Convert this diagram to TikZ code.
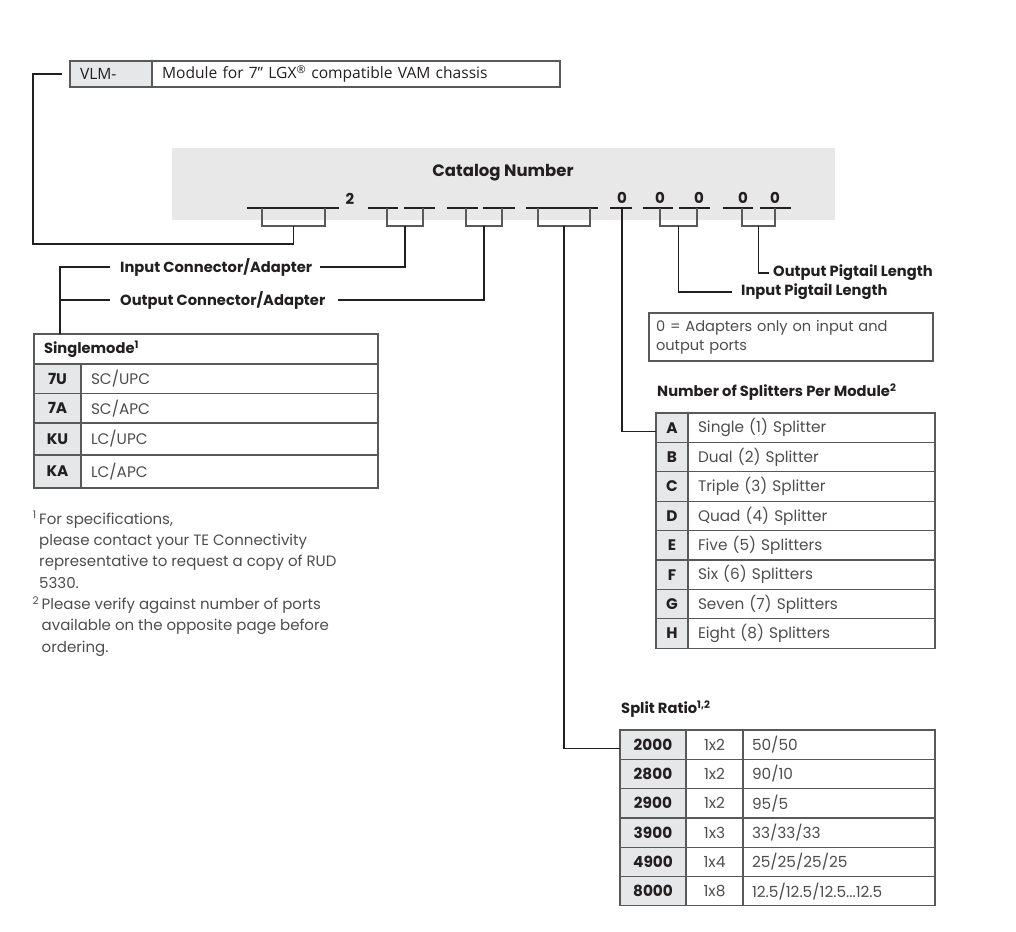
\documentclass[tikz,border=0pt]{standalone}
\usepackage{fontspec}
\setmainfont{Poppins}
\newfontfamily\vlmfont{Open Sans}
\usetikzlibrary{positioning}
\definecolor{ink}{HTML}{231F20}
\definecolor{txtgray}{HTML}{4D4D4F}
\definecolor{rulegray}{HTML}{58595B}
\definecolor{keygray}{HTML}{E6E7E8}
\definecolor{bandgray}{HTML}{E8E8E9}
\newcommand\tabfont{\fontsize{15.3}{18}\selectfont}
\newcommand\lblfont{\bfseries\fontsize{14.7}{17}\selectfont}
% bracket under a group of catalog slots, named coordinate at its foot
\newcommand\catbracket[3]{%
  \draw[tick] (#1,208) -- (#1,226) -- (#2,226) -- (#2,208);
  \coordinate (#3) at ({(#1+#2)/2},226);}
\tikzset{
  wire/.style    = {draw=ink, line width=1.2pt},
  tick/.style    = {draw=rulegray, line width=1.2pt},
  slot/.style    = {draw=ink, line width=1.8pt},
  lbl/.style     = {font=\lblfont, text=ink, inner sep=0pt, anchor=west},
  digit/.style   = {font=\bfseries\fontsize{15}{17}\selectfont, text=ink, inner sep=0pt},
  cell/.style    = {draw=rulegray, line width=1.2pt, outer sep=0pt,
                    inner sep=0pt, text=txtgray, font=\tabfont},
  keycell/.style = {cell, fill=keygray, text=ink, font=\bfseries\tabfont},
  desc/.style    = {cell, inner xsep=10pt, text width=#1, align=left}
}
\begin{document}
\begin{tikzpicture}[x=1pt, y=-1pt]
  \useasboundingbox (0,0) rectangle (1016,931);

  % module prefix
  \node[keycell, anchor=north west, minimum height=26, inner xsep=10pt,
        text width=62pt, align=left, font=\vlmfont\fontsize{15.6}{17}\selectfont]
        (vlmkey) at (70,61) {VLM-};
  \node[cell, right=0pt of vlmkey, minimum height=26, inner xsep=10pt,
        text width=388pt, align=left, text=ink,
        font=\vlmfont\fontsize{15.6}{17}\selectfont]
        (vlmdesc) {Module for 7” LGX\textsuperscript{®} compatible VAM chassis};

  % catalog number band
  \fill[bandgray] (172,148) rectangle (835,220);
  \node[digit, font=\bfseries\fontsize{16.5}{19}\selectfont] (cattitle) at (503,173) {Catalog Number};
  \node[digit] (d2)  at (350,199) {2};
  \node[digit] (d0a) at (622,198) {0};
  \node[digit] (d0b) at (660,198) {0};
  \node[digit] (d0c) at (699,198) {0};
  \node[digit] (d0d) at (743,198) {0};
  \node[digit] (d0e) at (775,198) {0};
  \draw[slot] (247,208) -- (339,208);
  \draw[slot] (368,208) -- (398,208) (404,208) -- (435,208);
  \draw[slot] (447,208) -- (478,208) (483,208) -- (515,208);
  \draw[slot] (526,208) -- (598,208);
  \draw[slot] (610,208) -- (632,208);
  \draw[slot] (643,208) -- (673,208) (679,208) -- (710,208);
  \draw[slot] (723,208) -- (753,208) (760,208) -- (791,208);
  \catbracket{262}{325}{g1}
  \catbracket{387}{423}{g2}
  \catbracket{466}{502}{g3}
  \catbracket{538}{590}{g4}
  \catbracket{660}{697}{g5}
  \catbracket{742}{775}{g6}
  \coordinate (g0) at (622,208);

  % labels
  \node[lbl] (inlbl)  at (120,267) {Input Connector/Adapter};
  \node[lbl] (outlbl) at (120,300) {Output Connector/Adapter};
  \node[lbl] (outpig) at (773,273) {Output Pigtail Length};
  \node[lbl] (inpig)  at (741,292) {Input Pigtail Length};
  \node[cell, anchor=north west, minimum width=284, minimum height=48,
        inner xsep=7pt, text width=270pt, align=left,
        font=\fontsize{14.6}{19}\selectfont]
        (adnote) at (649,313) {0 = Adapters only on input and\\output ports};

  % singlemode table
  \node[cell, anchor=north west, minimum height=30, inner xsep=10pt,
        text width=324pt, align=left, text=ink, font=\lblfont]
        (smhead) at (34,334) {Singlemode\textsuperscript{1}};
  \node[keycell, minimum width=47, minimum height=29.5,
        below=0pt of smhead.south west, anchor=north west] (sm7U) {7U};
  \node[desc=277pt, minimum height=29.5, right=0pt of sm7U] (smSCU) {SC/UPC};
  \node[keycell, minimum width=47, minimum height=29.5, below=0pt of sm7U] (sm7A) {7A};
  \node[desc=277pt, minimum height=29.5, right=0pt of sm7A] (smSCA) {SC/APC};
  \node[keycell, minimum width=47, minimum height=32, below=0pt of sm7A] (smKU) {KU};
  \node[desc=277pt, minimum height=32, right=0pt of smKU] (smLCU) {LC/UPC};
  \node[keycell, minimum width=47, minimum height=33, below=0pt of smKU] (smKA) {KA};
  \node[desc=277pt, minimum height=33, right=0pt of smKA] (smLCA) {LC/APC};

  % footnotes
  \node[lbl, font=\fontsize{15}{21.3}\selectfont, text=txtgray, align=left,
        anchor=base west] (fnotes) at (39,652)
        {\llap{\textsuperscript{1}\,}For specifications,\\
         please contact your TE Connectivity\\
         representative to request a copy of RUD\\
         5330.\\
         \llap{\textsuperscript{2}}\,Please verify against number of ports\\
         \,available on the opposite page before\\
         \,ordering.};

  % splitters table
  \node[lbl] (sptitle) at (657,392) {Number of Splitters Per Module\textsuperscript{2}};
  \node[keycell, minimum width=32, minimum height=29.4, anchor=north west] (spA) at (656,413) {A};
  \node[desc=227pt, minimum height=29.4, right=0pt of spA] (spAd) {Single (1) Splitter};
  \node[keycell, minimum width=32, minimum height=29.4, below=0pt of spA] (spB) {B};
  \node[desc=227pt, minimum height=29.4, right=0pt of spB] (spBd) {Dual (2) Splitter};
  \node[keycell, minimum width=32, minimum height=29.4, below=0pt of spB] (spC) {C};
  \node[desc=227pt, minimum height=29.4, right=0pt of spC] (spCd) {Triple (3) Splitter};
  \node[keycell, minimum width=32, minimum height=29.4, below=0pt of spC] (spD) {D};
  \node[desc=227pt, minimum height=29.4, right=0pt of spD] (spDd) {Quad (4) Splitter};
  \node[keycell, minimum width=32, minimum height=29.4, below=0pt of spD] (spE) {E};
  \node[desc=227pt, minimum height=29.4, right=0pt of spE] (spEd) {Five (5) Splitters};
  \node[keycell, minimum width=32, minimum height=29.4, below=0pt of spE] (spF) {F};
  \node[desc=227pt, minimum height=29.4, right=0pt of spF] (spFd) {Six (6) Splitters};
  \node[keycell, minimum width=32, minimum height=29.4, below=0pt of spF] (spG) {G};
  \node[desc=227pt, minimum height=29.4, right=0pt of spG] (spGd) {Seven (7) Splitters};
  \node[keycell, minimum width=32, minimum height=29.4, below=0pt of spG] (spH) {H};
  \node[desc=227pt, minimum height=29.4, right=0pt of spH] (spHd) {Eight (8) Splitters};

  % split ratio table
  \node[lbl] (srtitle) at (621,709) {Split Ratio\textsuperscript{1,2}};
  \node[keycell, minimum width=66, minimum height=29.3, anchor=north west] (sr2000) at (620,730) {2000};
  \node[cell, minimum width=57, minimum height=29.3, right=0pt of sr2000] (sr2000n) {1x2};
  \node[desc=174pt, inner xsep=9pt, minimum height=29.3, right=0pt of sr2000n] (sr2000r) {50/50};
  \node[keycell, minimum width=66, minimum height=29.3, below=0pt of sr2000] (sr2800) {2800};
  \node[cell, minimum width=57, minimum height=29.3, right=0pt of sr2800] (sr2800n) {1x2};
  \node[desc=174pt, inner xsep=9pt, minimum height=29.3, right=0pt of sr2800n] (sr2800r) {90/10};
  \node[keycell, minimum width=66, minimum height=29.3, below=0pt of sr2800] (sr2900) {2900};
  \node[cell, minimum width=57, minimum height=29.3, right=0pt of sr2900] (sr2900n) {1x2};
  \node[desc=174pt, inner xsep=9pt, minimum height=29.3, right=0pt of sr2900n] (sr2900r) {95/5};
  \node[keycell, minimum width=66, minimum height=29.3, below=0pt of sr2900] (sr3900) {3900};
  \node[cell, minimum width=57, minimum height=29.3, right=0pt of sr3900] (sr3900n) {1x3};
  \node[desc=174pt, inner xsep=9pt, minimum height=29.3, right=0pt of sr3900n] (sr3900r) {33/33/33};
  \node[keycell, minimum width=66, minimum height=29.3, below=0pt of sr3900] (sr4900) {4900};
  \node[cell, minimum width=57, minimum height=29.3, right=0pt of sr4900] (sr4900n) {1x4};
  \node[desc=174pt, inner xsep=9pt, minimum height=29.3, right=0pt of sr4900n] (sr4900r) {25/25/25/25};
  \node[keycell, minimum width=66, minimum height=29.3, below=0pt of sr4900] (sr8000) {8000};
  \node[cell, minimum width=57, minimum height=29.3, right=0pt of sr8000] (sr8000n) {1x8};
  \node[desc=174pt, inner xsep=9pt, minimum height=29.3, right=0pt of sr8000n] (sr8000r) {12.5/12.5/12.5...12.5};

  % connectors
  \draw[wire] (g1) |- (33,244) |- ([xshift=-8pt]vlmkey.west);
  \draw[wire] (g2) |- ([xshift=8pt]inlbl.east);
  \draw[wire] (g3) |- ([xshift=12pt]outlbl.east);
  \draw[wire] ([xshift=-10pt]inlbl.west) -| (smhead.north west -| 60,0);
  \draw[wire] ([xshift=-10pt]outlbl.west) -- (outlbl.west -| 60,0);
  \draw[wire] (g0) |- ([yshift=-4pt]spA.west);
  \draw[wire] (g4) |- ([yshift=-4pt]sr2000.west);
  \draw[wire] (g5) |- ([xshift=-9pt]inpig.west);
  \draw[wire] (g6) |- ([xshift=-4pt]outpig.west);
\end{tikzpicture}
\end{document}
